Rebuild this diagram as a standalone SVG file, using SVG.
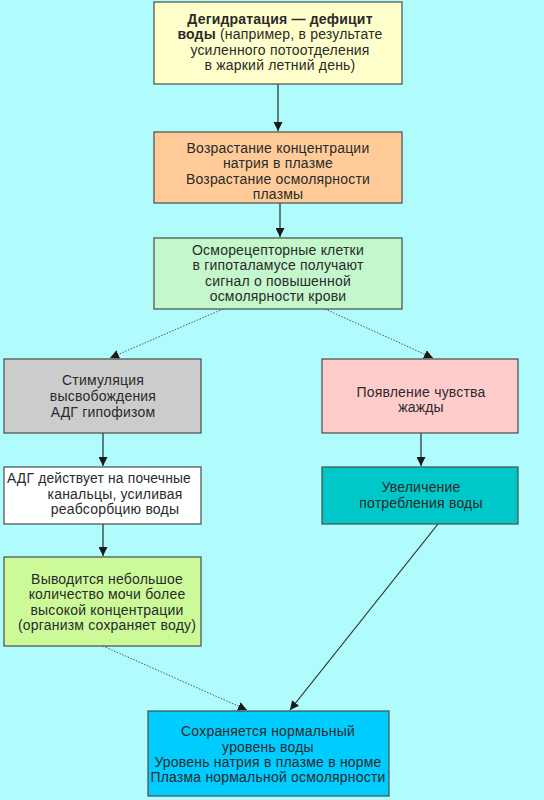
<svg xmlns="http://www.w3.org/2000/svg" width="544" height="800" viewBox="0 0 544 800">
<defs>
<style>
.box{stroke:#4a4a4a;stroke-width:1.2}
text{font-family:"Liberation Sans",Arial,sans-serif;font-size:14px;fill:#2a2a2a;text-anchor:middle;letter-spacing:0.2px}
.b{font-weight:bold;letter-spacing:0.2px}
.s{stroke:#2a2a2a;stroke-width:1.2;fill:none}
.d{stroke:#555;stroke-width:1;fill:none;stroke-dasharray:1.5 1.5}
</style>
<marker id="ah" viewBox="0 0 10 10" refX="10" refY="5" markerWidth="9" markerHeight="9" markerUnits="userSpaceOnUse" orient="auto">
<path d="M0,0 L10,5 L0,10 z" fill="#1a1a1a"/>
</marker>
</defs>
<rect width="544" height="800" fill="#b0fcfc"/>
<g id="connectors">
<line class="s" x1="278" y1="84" x2="278" y2="131" marker-end="url(#ah)"/>
<line class="s" x1="280" y1="203" x2="280" y2="237" marker-end="url(#ah)"/>
<line class="d" x1="223" y1="309" x2="110" y2="358" marker-end="url(#ah)"/>
<line class="d" x1="325" y1="309" x2="433" y2="358" marker-end="url(#ah)"/>
<line class="s" x1="103" y1="433" x2="103" y2="466" marker-end="url(#ah)"/>
<line class="s" x1="421" y1="433" x2="421" y2="466" marker-end="url(#ah)"/>
<line class="s" x1="103" y1="524" x2="103" y2="556" marker-end="url(#ah)"/>
<line class="d" x1="103" y1="646" x2="247" y2="710" marker-end="url(#ah)"/>
<line class="s" x1="438" y1="524" x2="290" y2="710" marker-end="url(#ah)"/>
</g>
<g id="n1">
<rect class="box" x="154" y="2" width="248" height="82" fill="#ffffcc"/>
<text x="280" y="24"><tspan class="b">Дегидратация — дефицит</tspan></text>
<text x="280" y="39"><tspan class="b">воды</tspan> (например, в результате</text>
<text x="280" y="55">усиленного потоотделения</text>
<text x="280" y="70">в жаркий летний день)</text>
</g>
<g id="n2">
<rect class="box" x="154" y="132" width="248" height="71" fill="#ffcc99"/>
<text x="278" y="153">Возрастание концентрации</text>
<text x="278" y="168">натрия в плазме</text>
<text x="278" y="184">Возрастание осмолярности</text>
<text x="278" y="199">плазмы</text>
</g>
<g id="n3">
<rect class="box" x="154" y="238" width="248" height="71" fill="#c4f7cc"/>
<text x="278" y="255">Осморецепторные клетки</text>
<text x="278" y="270">в гипоталамусе получают</text>
<text x="278" y="286">сигнал о повышенной</text>
<text x="278" y="301">осмолярности крови</text>
</g>
<g id="n4">
<rect class="box" x="4" y="359" width="197" height="74" fill="#cccccc"/>
<text x="103" y="385">Стимуляция</text>
<text x="103" y="401">высвобождения</text>
<text x="103" y="417">АДГ гипофизом</text>
</g>
<g id="n5">
<rect class="box" x="322" y="359" width="196" height="74" fill="#ffcccc"/>
<text x="421" y="397">Появление чувства</text>
<text x="421" y="412">жажды</text>
</g>
<g id="n6">
<rect class="box" x="4" y="467" width="197" height="57" fill="#ffffff"/>
<text x="99" y="483" textLength="184" lengthAdjust="spacingAndGlyphs">АДГ действует на почечные</text>
<text x="115" y="499">канальцы, усиливая</text>
<text x="115" y="514">реабсорбцию воды</text>
</g>
<g id="n7">
<rect class="box" x="322" y="467" width="196" height="57" fill="#00c8c8"/>
<text x="421" y="492">Увеличение</text>
<text x="421" y="508">потребления воды</text>
</g>
<g id="n8">
<rect class="box" x="4" y="557" width="197" height="89" fill="#ccfa99"/>
<text x="107" y="584">Выводится небольшое</text>
<text x="107" y="599">количество мочи более</text>
<text x="107" y="615">высокой концентрации</text>
<text x="107" y="630">(организм сохраняет воду)</text>
</g>
<g id="n9">
<rect class="box" x="148" y="711" width="241" height="85" fill="#00ccff"/>
<text x="268" y="736">Сохраняется нормальный</text>
<text x="268" y="752">уровень воды</text>
<text x="268" y="767">Уровень натрия в плазме в норме</text>
<text x="268" y="782">Плазма нормальной осмолярности</text>
</g>
</svg>
